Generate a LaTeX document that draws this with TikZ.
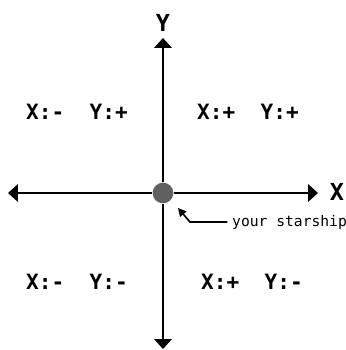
\documentclass[tikz,border=0pt]{standalone}
\usepackage{fontspec}
\setmonofont{DejaVu Sans Mono}
\usetikzlibrary{arrows.meta}

\begin{document}
\begin{tikzpicture}[
  x=.03cm,y=.03cm,
  axis/.style={-{Triangle[length=8.5pt,width=15pt]},line width=1.6pt},
  pointer/.style={-{Triangle[length=7pt,width=7pt]},line width=1.4pt,
                  line join=miter},
  quad/.style={font=\ttfamily\bfseries\fontsize{18}{19}\selectfont,inner sep=0pt},
  axlabel/.style={font=\ttfamily\bfseries\fontsize{20}{21}\selectfont,inner sep=0pt},
  note/.style={font=\ttfamily\fontsize{12.5}{13}\selectfont,inner sep=0pt,anchor=west}
]
\useasboundingbox (-163,-157) rectangle (183,193);

% the ship sits at the origin
\node[circle,minimum size=.62cm,inner sep=0pt,fill=black!62] (ship) at (0,0) {};

\coordinate (top) at (0,155);
\coordinate (bottom) at (0,-156);
\coordinate (left) at (-155,0);
\coordinate (right) at (155,0);
\coordinate (tip) at (15,-15);

\draw[axis] (ship.north) -- (top);
\draw[axis] (ship.south) -- (bottom);
\draw[axis] (ship.west) -- (left);
\draw[axis] (ship.east) -- (right);

\node[axlabel] (ylab) at (0,170) {Y};
\node[axlabel] (xlab) at (174,1) {X};

\node[quad] (qtl) at (-86,81) {X:-\ \ Y:+};
\node[quad] (qtr) at (85,81) {X:+\ \ Y:+};
\node[quad] (qbl) at (-86,-89) {X:-\ \ Y:-};
\node[quad] (qbr) at (89,-89) {X:+\ \ Y:-};

\node[note] (shiplab) at (69,-29) {your starship};
\draw[pointer] ([xshift=-4pt]shiplab.west) -- (27,-29) -- (tip);
\end{tikzpicture}
\end{document}
